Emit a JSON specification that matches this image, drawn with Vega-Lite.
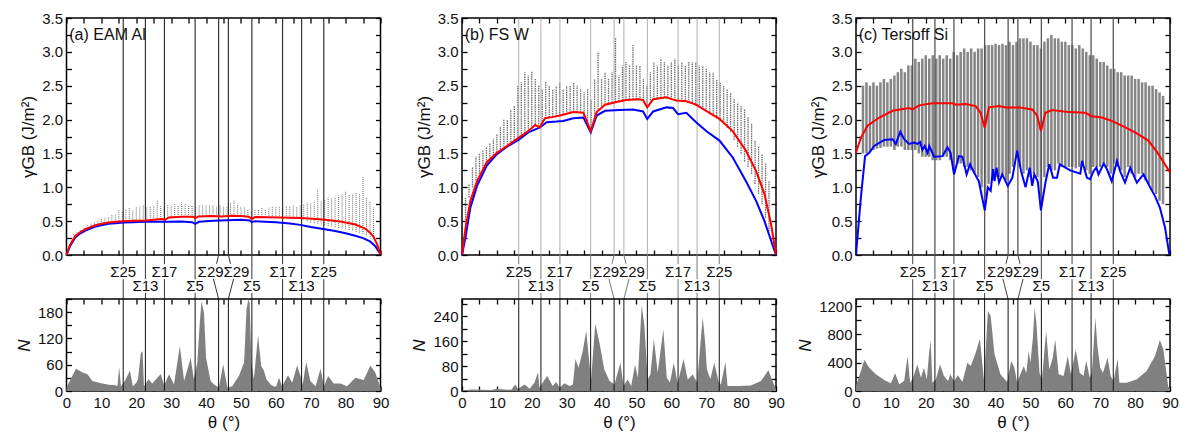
{
"$schema": "https://vega.github.io/schema/vega-lite/v6.json",
"padding": {"left": 14.5, "top": 10, "right": 5, "bottom": 0},
"background": "white",
"config": {
  "font": "Liberation Sans",
  "view": {"stroke": "black", "strokeWidth": 1.5},
  "axis": {"domain": false, "grid": false, "tickColor": "black", "tickSize": -5, "tickWidth": 1.3, "labelFontSize": 15, "labelColor": "#111", "titleFontSize": 17, "titleFontWeight": "normal", "titleColor": "#111", "labelPadding": 9, "titlePadding": 4, "labelOverlap": false, "labelFlush": false, "labelFont": "Liberation Sans", "titleFont": "Liberation Sans"}
},
"datasets": {
  "sigma": [{"theta":16.26},{"theta":22.62},{"theta":28.07},{"theta":36.87},{"theta":43.6},{"theta":46.4},{"theta":53.13},{"theta":61.93},{"theta":67.38},{"theta":73.74}],
  "gapSeg": [
    {"x1":16.26,"x2":16.26,"y1":0.79,"y2":1},{"x1":16.26,"x2":16.26,"y1":0,"y2":0.45},
    {"x1":28.07,"x2":28.07,"y1":0.79,"y2":1},{"x1":28.07,"x2":28.07,"y1":0,"y2":0.45},
    {"x1":61.93,"x2":61.93,"y1":0.79,"y2":1},{"x1":61.93,"x2":61.93,"y1":0,"y2":0.45},
    {"x1":73.74,"x2":73.74,"y1":0.79,"y2":1},{"x1":73.74,"x2":73.74,"y1":0,"y2":0.45},
    {"x1":22.62,"x2":22.62,"y1":0.45,"y2":1},{"x1":22.62,"x2":22.62,"y1":0,"y2":0.14},
    {"x1":36.87,"x2":36.87,"y1":0.45,"y2":1},{"x1":36.87,"x2":36.87,"y1":0,"y2":0.14},
    {"x1":53.13,"x2":53.13,"y1":0.45,"y2":1},{"x1":53.13,"x2":53.13,"y1":0,"y2":0.14},
    {"x1":67.38,"x2":67.38,"y1":0.45,"y2":1},{"x1":67.38,"x2":67.38,"y1":0,"y2":0.14},
    {"x1":43.6,"x2":43.0,"y1":1,"y2":0.8},{"x1":42.1,"x2":43.6,"y1":0.46,"y2":0},
    {"x1":46.4,"x2":47.0,"y1":1,"y2":0.8},{"x1":47.9,"x2":46.4,"y1":0.46,"y2":0}
  ],
  "gapLab": [
    {"label":"Σ25","theta":16.26,"tier":0.62},
    {"label":"Σ13","theta":22.62,"tier":0.295},
    {"label":"Σ17","theta":28.07,"tier":0.62},
    {"label":"Σ5","theta":36.87,"tier":0.295},
    {"label":"Σ29","theta":41.3,"tier":0.62},
    {"label":"Σ29","theta":48.7,"tier":0.62},
    {"label":"Σ5","theta":53.13,"tier":0.295},
    {"label":"Σ17","theta":61.93,"tier":0.62},
    {"label":"Σ13","theta":67.38,"tier":0.295},
    {"label":"Σ25","theta":73.74,"tier":0.62}
  ],
  "lineA": [
    {"curve":"lower","theta":0,"gamma":0},{"curve":"lower","theta":1,"gamma":0.13},{"curve":"lower","theta":2.5,"gamma":0.26},{"curve":"lower","theta":4,"gamma":0.32},{"curve":"lower","theta":5.4,"gamma":0.36},{"curve":"lower","theta":7,"gamma":0.395},{"curve":"lower","theta":8.3,"gamma":0.42},{"curve":"lower","theta":10,"gamma":0.44},{"curve":"lower","theta":12.1,"gamma":0.46},{"curve":"lower","theta":14,"gamma":0.47},{"curve":"lower","theta":16.4,"gamma":0.48},{"curve":"lower","theta":19,"gamma":0.485},{"curve":"lower","theta":22.6,"gamma":0.49},{"curve":"lower","theta":25,"gamma":0.49},{"curve":"lower","theta":28.3,"gamma":0.49},{"curve":"lower","theta":33,"gamma":0.495},{"curve":"lower","theta":36,"gamma":0.485},{"curve":"lower","theta":36.9,"gamma":0.46},{"curve":"lower","theta":38,"gamma":0.49},{"curve":"lower","theta":42,"gamma":0.505},{"curve":"lower","theta":46,"gamma":0.515},{"curve":"lower","theta":50,"gamma":0.52},{"curve":"lower","theta":52.5,"gamma":0.51},{"curve":"lower","theta":53.1,"gamma":0.485},{"curve":"lower","theta":54,"gamma":0.5},{"curve":"lower","theta":60,"gamma":0.485},{"curve":"lower","theta":64,"gamma":0.465},{"curve":"lower","theta":67,"gamma":0.445},{"curve":"lower","theta":70,"gamma":0.415},{"curve":"lower","theta":74,"gamma":0.38},{"curve":"lower","theta":77,"gamma":0.355},{"curve":"lower","theta":80,"gamma":0.32},{"curve":"lower","theta":83,"gamma":0.28},{"curve":"lower","theta":85,"gamma":0.25},{"curve":"lower","theta":87,"gamma":0.2},{"curve":"lower","theta":88.5,"gamma":0.13},{"curve":"lower","theta":90,"gamma":0.01},
    {"curve":"upper","theta":0,"gamma":0},{"curve":"upper","theta":1,"gamma":0.15},{"curve":"upper","theta":2.5,"gamma":0.28},{"curve":"upper","theta":4,"gamma":0.34},{"curve":"upper","theta":5.4,"gamma":0.38},{"curve":"upper","theta":7,"gamma":0.415},{"curve":"upper","theta":8.3,"gamma":0.44},{"curve":"upper","theta":10,"gamma":0.46},{"curve":"upper","theta":12.1,"gamma":0.48},{"curve":"upper","theta":14,"gamma":0.49},{"curve":"upper","theta":16.4,"gamma":0.5},{"curve":"upper","theta":19,"gamma":0.505},{"curve":"upper","theta":22.6,"gamma":0.51},{"curve":"upper","theta":25,"gamma":0.52},{"curve":"upper","theta":27.4,"gamma":0.53},{"curve":"upper","theta":28.3,"gamma":0.52},{"curve":"upper","theta":29.3,"gamma":0.555},{"curve":"upper","theta":33.1,"gamma":0.565},{"curve":"upper","theta":36.4,"gamma":0.565},{"curve":"upper","theta":36.9,"gamma":0.545},{"curve":"upper","theta":37.9,"gamma":0.57},{"curve":"upper","theta":41.7,"gamma":0.575},{"curve":"upper","theta":44.5,"gamma":0.57},{"curve":"upper","theta":47.4,"gamma":0.58},{"curve":"upper","theta":50,"gamma":0.575},{"curve":"upper","theta":52.2,"gamma":0.565},{"curve":"upper","theta":53.1,"gamma":0.535},{"curve":"upper","theta":54.1,"gamma":0.56},{"curve":"upper","theta":60.8,"gamma":0.555},{"curve":"upper","theta":67.5,"gamma":0.545},{"curve":"upper","theta":74.2,"gamma":0.52},{"curve":"upper","theta":78.9,"gamma":0.49},{"curve":"upper","theta":82.8,"gamma":0.45},{"curve":"upper","theta":85.6,"gamma":0.39},{"curve":"upper","theta":87,"gamma":0.33},{"curve":"upper","theta":88,"gamma":0.27},{"curve":"upper","theta":89,"gamma":0.16},{"curve":"upper","theta":90,"gamma":0.01}
  ],
  "grayA": [
    {"theta":2,"lo":0.29,"hi":0.31},{"theta":3,"lo":0.32,"hi":0.35},{"theta":4,"lo":0.35,"hi":0.38},{"theta":5,"lo":0.38,"hi":0.41},{"theta":6,"lo":0.4,"hi":0.44},{"theta":7,"lo":0.42,"hi":0.46},{"theta":8,"lo":0.44,"hi":0.49},{"theta":9,"lo":0.45,"hi":0.51},{"theta":10,"lo":0.46,"hi":0.53},{"theta":11,"lo":0.47,"hi":0.55},{"theta":12,"lo":0.48,"hi":0.57},{"theta":13,"lo":0.49,"hi":0.59},{"theta":14,"lo":0.49,"hi":0.6},{"theta":15,"lo":0.5,"hi":0.66},{"theta":16,"lo":0.5,"hi":0.65},{"theta":17,"lo":0.5,"hi":0.68},{"theta":18,"lo":0.5,"hi":0.7},{"theta":19,"lo":0.51,"hi":0.66},{"theta":20,"lo":0.51,"hi":0.7},{"theta":21,"lo":0.51,"hi":0.72},{"theta":22,"lo":0.51,"hi":0.74},{"theta":23,"lo":0.51,"hi":0.7},{"theta":24,"lo":0.52,"hi":0.72},{"theta":25,"lo":0.52,"hi":0.73},{"theta":26,"lo":0.52,"hi":0.8},{"theta":27,"lo":0.53,"hi":0.72},{"theta":28,"lo":0.52,"hi":0.7},{"theta":29,"lo":0.55,"hi":0.74},{"theta":30,"lo":0.55,"hi":0.73},{"theta":31,"lo":0.56,"hi":0.75},{"theta":32,"lo":0.56,"hi":0.74},{"theta":33,"lo":0.56,"hi":0.77},{"theta":34,"lo":0.56,"hi":0.75},{"theta":35,"lo":0.56,"hi":0.74},{"theta":36,"lo":0.56,"hi":0.73},{"theta":37,"lo":0.55,"hi":0.72},{"theta":38,"lo":0.57,"hi":0.74},{"theta":39,"lo":0.57,"hi":0.74},{"theta":40,"lo":0.57,"hi":0.73},{"theta":41,"lo":0.57,"hi":0.74},{"theta":42,"lo":0.57,"hi":0.73},{"theta":43,"lo":0.57,"hi":0.72},{"theta":44,"lo":0.57,"hi":0.73},{"theta":45,"lo":0.57,"hi":0.72},{"theta":46,"lo":0.58,"hi":0.72},{"theta":47,"lo":0.58,"hi":0.78},{"theta":48,"lo":0.58,"hi":0.8},{"theta":49,"lo":0.58,"hi":0.74},{"theta":50,"lo":0.57,"hi":0.72},{"theta":51,"lo":0.57,"hi":0.7},{"theta":52,"lo":0.56,"hi":0.68},{"theta":53,"lo":0.53,"hi":0.65},{"theta":54,"lo":0.56,"hi":0.66},{"theta":55,"lo":0.56,"hi":0.68},{"theta":56,"lo":0.56,"hi":0.7},{"theta":57,"lo":0.56,"hi":0.68},{"theta":58,"lo":0.55,"hi":0.7},{"theta":59,"lo":0.55,"hi":0.72},{"theta":60,"lo":0.55,"hi":0.71},{"theta":61,"lo":0.55,"hi":0.72},{"theta":62,"lo":0.55,"hi":0.7},{"theta":63,"lo":0.55,"hi":0.73},{"theta":64,"lo":0.55,"hi":0.72},{"theta":65,"lo":0.54,"hi":0.74},{"theta":66,"lo":0.54,"hi":0.72},{"theta":67,"lo":0.54,"hi":0.73},{"theta":68,"lo":0.52,"hi":0.75},{"theta":69,"lo":0.5,"hi":0.77},{"theta":70,"lo":0.48,"hi":0.76},{"theta":71,"lo":0.47,"hi":0.8},{"theta":72,"lo":0.46,"hi":0.97},{"theta":73,"lo":0.45,"hi":0.8},{"theta":74,"lo":0.44,"hi":0.82},{"theta":75,"lo":0.43,"hi":0.85},{"theta":76,"lo":0.42,"hi":0.84},{"theta":77,"lo":0.41,"hi":0.86},{"theta":78,"lo":0.4,"hi":0.88},{"theta":79,"lo":0.39,"hi":0.9},{"theta":80,"lo":0.38,"hi":0.95},{"theta":81,"lo":0.37,"hi":0.9},{"theta":82,"lo":0.36,"hi":0.9},{"theta":83,"lo":0.34,"hi":0.92},{"theta":84,"lo":0.33,"hi":0.9},{"theta":85,"lo":0.31,"hi":1.15},{"theta":86,"lo":0.29,"hi":0.85},{"theta":87,"lo":0.27,"hi":0.8},{"theta":88,"lo":0.25,"hi":0.7}
  ],
  "nA": [
    {"theta":0,"n":8},{"theta":2.7,"n":51},{"theta":4.6,"n":42},{"theta":6,"n":38},{"theta":7.4,"n":23},{"theta":10.3,"n":17},{"theta":12.2,"n":14},{"theta":14.1,"n":13},{"theta":14.6,"n":11},{"theta":15.1,"n":55},{"theta":15.6,"n":10},{"theta":17,"n":27},{"theta":18.2,"n":47},{"theta":19,"n":11},{"theta":20,"n":19},{"theta":20.5,"n":27},{"theta":21.3,"n":87},{"theta":21.8,"n":91},{"theta":22.2,"n":11},{"theta":23.5,"n":27},{"theta":24.6,"n":17},{"theta":27,"n":39},{"theta":28,"n":13},{"theta":29.4,"n":38},{"theta":30.8,"n":15},{"theta":32.5,"n":103},{"theta":33.7,"n":23},{"theta":35.6,"n":76},{"theta":36.5,"n":27},{"theta":37.5,"n":65},{"theta":38.2,"n":156},{"theta":38.7,"n":205},{"theta":39.4,"n":178},{"theta":40,"n":76},{"theta":41.3,"n":23},{"theta":42.3,"n":15},{"theta":43.7,"n":8},{"theta":44.9,"n":61},{"theta":46.1,"n":8},{"theta":47.5,"n":11},{"theta":49.4,"n":34},{"theta":50.9,"n":65},{"theta":51.6,"n":186},{"theta":52.1,"n":209},{"theta":52.5,"n":201},{"theta":53,"n":65},{"theta":53.7,"n":27},{"theta":54.9,"n":127},{"theta":55.8,"n":57},{"theta":56.6,"n":46},{"theta":57.3,"n":27},{"theta":58.5,"n":15},{"theta":60,"n":8},{"theta":60.9,"n":30},{"theta":61.8,"n":11},{"theta":63.5,"n":36},{"theta":64.7,"n":19},{"theta":66.1,"n":58},{"theta":67.1,"n":34},{"theta":67.7,"n":15},{"theta":68.7,"n":66},{"theta":69.9,"n":23},{"theta":71.4,"n":11},{"theta":72.8,"n":51},{"theta":73.8,"n":11},{"theta":75,"n":34},{"theta":76.6,"n":17},{"theta":78.5,"n":17},{"theta":80.4,"n":11},{"theta":82.8,"n":30},{"theta":85.2,"n":25},{"theta":87.1,"n":58},{"theta":88.5,"n":42},{"theta":90,"n":8}
  ],
  "lineB": [
    {"curve":"lower","theta":0,"gamma":0},{"curve":"lower","theta":1,"gamma":0.26},{"curve":"lower","theta":2.4,"gamma":0.7},{"curve":"lower","theta":4.3,"gamma":1.02},{"curve":"lower","theta":7.1,"gamma":1.32},{"curve":"lower","theta":10,"gamma":1.49},{"curve":"lower","theta":12.9,"gamma":1.6},{"curve":"lower","theta":16.2,"gamma":1.7},{"curve":"lower","theta":19,"gamma":1.81},{"curve":"lower","theta":22.2,"gamma":1.88},{"curve":"lower","theta":24.3,"gamma":1.96},{"curve":"lower","theta":27.1,"gamma":1.97},{"curve":"lower","theta":29,"gamma":1.98},{"curve":"lower","theta":31.9,"gamma":2.02},{"curve":"lower","theta":34.8,"gamma":2.03},{"curve":"lower","theta":36.9,"gamma":1.81},{"curve":"lower","theta":38.6,"gamma":2.06},{"curve":"lower","theta":41,"gamma":2.13},{"curve":"lower","theta":45.2,"gamma":2.14},{"curve":"lower","theta":49,"gamma":2.15},{"curve":"lower","theta":51.9,"gamma":2.12},{"curve":"lower","theta":53.1,"gamma":2.01},{"curve":"lower","theta":54.8,"gamma":2.12},{"curve":"lower","theta":58.6,"gamma":2.18},{"curve":"lower","theta":60.5,"gamma":2.17},{"curve":"lower","theta":61.9,"gamma":2.08},{"curve":"lower","theta":64.3,"gamma":2.1},{"curve":"lower","theta":67.1,"gamma":1.96},{"curve":"lower","theta":70,"gamma":1.83},{"curve":"lower","theta":73.8,"gamma":1.69},{"curve":"lower","theta":77.6,"gamma":1.44},{"curve":"lower","theta":81.4,"gamma":1.09},{"curve":"lower","theta":84.3,"gamma":0.8},{"curve":"lower","theta":86.7,"gamma":0.5},{"curve":"lower","theta":88.6,"gamma":0.21},{"curve":"lower","theta":90,"gamma":0},
    {"curve":"upper","theta":0,"gamma":0.01},{"curve":"upper","theta":1,"gamma":0.4},{"curve":"upper","theta":2.4,"gamma":0.8},{"curve":"upper","theta":4.3,"gamma":1.09},{"curve":"upper","theta":7.1,"gamma":1.37},{"curve":"upper","theta":10,"gamma":1.51},{"curve":"upper","theta":12.9,"gamma":1.61},{"curve":"upper","theta":16.2,"gamma":1.73},{"curve":"upper","theta":19,"gamma":1.83},{"curve":"upper","theta":21,"gamma":1.92},{"curve":"upper","theta":22.2,"gamma":1.88},{"curve":"upper","theta":23.8,"gamma":2.02},{"curve":"upper","theta":26.2,"gamma":2.04},{"curve":"upper","theta":28.1,"gamma":2.06},{"curve":"upper","theta":31.9,"gamma":2.11},{"curve":"upper","theta":34.8,"gamma":2.1},{"curve":"upper","theta":36.9,"gamma":1.83},{"curve":"upper","theta":38.6,"gamma":2.11},{"curve":"upper","theta":41,"gamma":2.22},{"curve":"upper","theta":44.3,"gamma":2.26},{"curve":"upper","theta":47.1,"gamma":2.29},{"curve":"upper","theta":50.5,"gamma":2.3},{"curve":"upper","theta":51.9,"gamma":2.29},{"curve":"upper","theta":53.1,"gamma":2.18},{"curve":"upper","theta":54.8,"gamma":2.3},{"curve":"upper","theta":58.6,"gamma":2.33},{"curve":"upper","theta":61.4,"gamma":2.28},{"curve":"upper","theta":64.3,"gamma":2.27},{"curve":"upper","theta":67.1,"gamma":2.22},{"curve":"upper","theta":70,"gamma":2.13},{"curve":"upper","theta":73.8,"gamma":2.01},{"curve":"upper","theta":77.6,"gamma":1.83},{"curve":"upper","theta":81.4,"gamma":1.54},{"curve":"upper","theta":84.3,"gamma":1.24},{"curve":"upper","theta":86.7,"gamma":0.9},{"curve":"upper","theta":88.6,"gamma":0.45},{"curve":"upper","theta":90,"gamma":0.01}
  ],
  "grayB": [
    {"theta":1,"lo":0.45,"hi":0.85},{"theta":2,"lo":0.85,"hi":1.05},{"theta":3,"lo":1.0,"hi":1.3},{"theta":4,"lo":1.1,"hi":1.45},{"theta":5,"lo":1.2,"hi":1.5},{"theta":6,"lo":1.28,"hi":1.55},{"theta":7,"lo":1.36,"hi":1.6},{"theta":8,"lo":1.42,"hi":1.65},{"theta":9,"lo":1.47,"hi":1.72},{"theta":10,"lo":1.52,"hi":1.78},{"theta":11,"lo":1.56,"hi":1.9},{"theta":12,"lo":1.6,"hi":2.0},{"theta":13,"lo":1.63,"hi":2.0},{"theta":14,"lo":1.67,"hi":2.15},{"theta":15,"lo":1.7,"hi":2.2},{"theta":16,"lo":1.73,"hi":2.5},{"theta":17,"lo":1.76,"hi":2.55},{"theta":18,"lo":1.8,"hi":2.7},{"theta":19,"lo":1.83,"hi":2.65},{"theta":20,"lo":1.87,"hi":2.72},{"theta":21,"lo":1.9,"hi":2.6},{"theta":22,"lo":1.9,"hi":2.5},{"theta":23,"lo":1.97,"hi":2.45},{"theta":24,"lo":2.02,"hi":2.55},{"theta":25,"lo":2.03,"hi":2.5},{"theta":26,"lo":2.04,"hi":2.45},{"theta":27,"lo":2.05,"hi":2.5},{"theta":28,"lo":2.06,"hi":2.55},{"theta":29,"lo":2.07,"hi":2.45},{"theta":30,"lo":2.08,"hi":2.5},{"theta":31,"lo":2.1,"hi":2.5},{"theta":32,"lo":2.11,"hi":2.55},{"theta":33,"lo":2.11,"hi":2.5},{"theta":34,"lo":2.1,"hi":2.45},{"theta":35,"lo":2.05,"hi":2.4},{"theta":36,"lo":1.95,"hi":2.45},{"theta":37,"lo":1.85,"hi":2.3},{"theta":38,"lo":2.05,"hi":2.6},{"theta":39,"lo":2.15,"hi":3.0},{"theta":40,"lo":2.2,"hi":2.6},{"theta":41,"lo":2.22,"hi":2.7},{"theta":42,"lo":2.24,"hi":2.6},{"theta":43,"lo":2.25,"hi":2.7},{"theta":44,"lo":2.26,"hi":3.2},{"theta":45,"lo":2.27,"hi":2.65},{"theta":46,"lo":2.28,"hi":2.8},{"theta":47,"lo":2.29,"hi":2.85},{"theta":48,"lo":2.3,"hi":2.8},{"theta":49,"lo":2.3,"hi":3.1},{"theta":50,"lo":2.3,"hi":2.8},{"theta":51,"lo":2.29,"hi":2.8},{"theta":52,"lo":2.25,"hi":2.6},{"theta":53,"lo":2.18,"hi":2.5},{"theta":54,"lo":2.28,"hi":2.7},{"theta":55,"lo":2.3,"hi":2.85},{"theta":56,"lo":2.31,"hi":2.8},{"theta":57,"lo":2.32,"hi":2.9},{"theta":58,"lo":2.33,"hi":2.85},{"theta":59,"lo":2.32,"hi":2.8},{"theta":60,"lo":2.3,"hi":2.85},{"theta":61,"lo":2.28,"hi":2.9},{"theta":62,"lo":2.27,"hi":2.8},{"theta":63,"lo":2.27,"hi":2.85},{"theta":64,"lo":2.26,"hi":2.8},{"theta":65,"lo":2.25,"hi":2.85},{"theta":66,"lo":2.23,"hi":2.85},{"theta":67,"lo":2.2,"hi":2.85},{"theta":68,"lo":2.18,"hi":2.8},{"theta":69,"lo":2.15,"hi":2.8},{"theta":70,"lo":2.12,"hi":2.75},{"theta":71,"lo":2.08,"hi":2.7},{"theta":72,"lo":2.05,"hi":2.7},{"theta":73,"lo":2.02,"hi":2.6},{"theta":74,"lo":1.98,"hi":2.55},{"theta":75,"lo":1.93,"hi":2.5},{"theta":76,"lo":1.88,"hi":2.45},{"theta":77,"lo":1.82,"hi":2.4},{"theta":78,"lo":1.7,"hi":2.3},{"theta":79,"lo":1.6,"hi":2.25},{"theta":80,"lo":1.5,"hi":2.2},{"theta":81,"lo":1.38,"hi":2.15},{"theta":82,"lo":1.3,"hi":2.05},{"theta":83,"lo":1.2,"hi":1.95},{"theta":84,"lo":1.05,"hi":1.7},{"theta":85,"lo":0.9,"hi":1.6},{"theta":86,"lo":0.75,"hi":1.5},{"theta":87,"lo":0.55,"hi":1.35},{"theta":88,"lo":0.35,"hi":1.1}
  ],
  "nB": [
    {"theta":0,"n":2},{"theta":2.7,"n":5},{"theta":5.5,"n":4},{"theta":8.4,"n":3},{"theta":10.1,"n":7},{"theta":12.2,"n":5},{"theta":14.1,"n":4},{"theta":15.3,"n":21},{"theta":16,"n":7},{"theta":18,"n":21},{"theta":19.4,"n":7},{"theta":20.8,"n":27},{"theta":21.8,"n":61},{"theta":22.2,"n":11},{"theta":24.4,"n":48},{"theta":26,"n":16},{"theta":27,"n":29},{"theta":28,"n":11},{"theta":29.4,"n":25},{"theta":30.8,"n":16},{"theta":31.8,"n":21},{"theta":32.5,"n":103},{"theta":33.4,"n":75},{"theta":34.6,"n":128},{"theta":35.6,"n":194},{"theta":36.5,"n":91},{"theta":37,"n":37},{"theta":38.2,"n":217},{"theta":39.4,"n":155},{"theta":40.8,"n":69},{"theta":42.3,"n":32},{"theta":43.7,"n":21},{"theta":45.4,"n":91},{"theta":46.3,"n":16},{"theta":47.5,"n":37},{"theta":48.5,"n":16},{"theta":49.6,"n":85},{"theta":50.4,"n":43},{"theta":51.5,"n":277},{"theta":52.3,"n":208},{"theta":53.2,"n":37},{"theta":54,"n":53},{"theta":55,"n":167},{"theta":56.1,"n":59},{"theta":57.7,"n":199},{"theta":58.7,"n":43},{"theta":59.6,"n":27},{"theta":60.7,"n":91},{"theta":61.8,"n":25},{"theta":63.5,"n":103},{"theta":64.7,"n":37},{"theta":66.1,"n":53},{"theta":67.4,"n":27},{"theta":69,"n":238},{"theta":69.7,"n":155},{"theta":70.2,"n":69},{"theta":71.2,"n":39},{"theta":72.3,"n":91},{"theta":73.5,"n":32},{"theta":74.2,"n":21},{"theta":75.5,"n":93},{"theta":76.1,"n":16},{"theta":79,"n":16},{"theta":82.8,"n":18},{"theta":85.7,"n":32},{"theta":87.8,"n":67},{"theta":90,"n":5}
  ],
  "lineC": [
    {"curve":"lower","theta":0,"gamma":0.01},{"curve":"lower","theta":1.4,"gamma":0.85},{"curve":"lower","theta":2.6,"gamma":1.46},{"curve":"lower","theta":3.8,"gamma":1.51},{"curve":"lower","theta":5.2,"gamma":1.61},{"curve":"lower","theta":8.1,"gamma":1.7},{"curve":"lower","theta":10.5,"gamma":1.71},{"curve":"lower","theta":11.4,"gamma":1.64},{"curve":"lower","theta":12.7,"gamma":1.82},{"curve":"lower","theta":13.8,"gamma":1.71},{"curve":"lower","theta":15.2,"gamma":1.64},{"curve":"lower","theta":16.7,"gamma":1.66},{"curve":"lower","theta":17.6,"gamma":1.64},{"curve":"lower","theta":18.4,"gamma":1.67},{"curve":"lower","theta":19,"gamma":1.55},{"curve":"lower","theta":19.7,"gamma":1.61},{"curve":"lower","theta":20.5,"gamma":1.51},{"curve":"lower","theta":21,"gamma":1.61},{"curve":"lower","theta":22.4,"gamma":1.45},{"curve":"lower","theta":24.8,"gamma":1.46},{"curve":"lower","theta":26.2,"gamma":1.59},{"curve":"lower","theta":27.1,"gamma":1.51},{"curve":"lower","theta":28.1,"gamma":1.19},{"curve":"lower","theta":29.5,"gamma":1.46},{"curve":"lower","theta":30.5,"gamma":1.45},{"curve":"lower","theta":31.7,"gamma":1.19},{"curve":"lower","theta":32.7,"gamma":1.34},{"curve":"lower","theta":33.8,"gamma":1.22},{"curve":"lower","theta":35.2,"gamma":1.09},{"curve":"lower","theta":36.9,"gamma":0.66},{"curve":"lower","theta":37.8,"gamma":1.0},{"curve":"lower","theta":38.6,"gamma":0.95},{"curve":"lower","theta":39.3,"gamma":1.27},{"curve":"lower","theta":39.7,"gamma":1.09},{"curve":"lower","theta":40.3,"gamma":1.29},{"curve":"lower","theta":41,"gamma":1.07},{"curve":"lower","theta":41.9,"gamma":1.19},{"curve":"lower","theta":43.5,"gamma":1.02},{"curve":"lower","theta":44.8,"gamma":1.14},{"curve":"lower","theta":46.2,"gamma":1.54},{"curve":"lower","theta":47.3,"gamma":1.24},{"curve":"lower","theta":48.6,"gamma":1.0},{"curve":"lower","theta":49.8,"gamma":1.29},{"curve":"lower","theta":50.5,"gamma":1.02},{"curve":"lower","theta":51.1,"gamma":1.19},{"curve":"lower","theta":52.1,"gamma":1.09},{"curve":"lower","theta":53,"gamma":0.66},{"curve":"lower","theta":54.3,"gamma":1.07},{"curve":"lower","theta":55.4,"gamma":1.34},{"curve":"lower","theta":56.5,"gamma":1.14},{"curve":"lower","theta":57.6,"gamma":1.14},{"curve":"lower","theta":58.4,"gamma":1.34},{"curve":"lower","theta":61.4,"gamma":1.25},{"curve":"lower","theta":64.3,"gamma":1.2},{"curve":"lower","theta":64.8,"gamma":1.39},{"curve":"lower","theta":66.2,"gamma":1.14},{"curve":"lower","theta":67.1,"gamma":1.12},{"curve":"lower","theta":68.1,"gamma":1.24},{"curve":"lower","theta":68.9,"gamma":1.29},{"curve":"lower","theta":69.5,"gamma":1.19},{"curve":"lower","theta":71,"gamma":1.35},{"curve":"lower","theta":71.9,"gamma":1.27},{"curve":"lower","theta":73.3,"gamma":1.09},{"curve":"lower","theta":74.8,"gamma":1.39},{"curve":"lower","theta":75.7,"gamma":1.24},{"curve":"lower","theta":77.1,"gamma":1.07},{"curve":"lower","theta":78.6,"gamma":1.29},{"curve":"lower","theta":80.5,"gamma":1.07},{"curve":"lower","theta":82.4,"gamma":1.19},{"curve":"lower","theta":84.3,"gamma":1.0},{"curve":"lower","theta":85.7,"gamma":0.87},{"curve":"lower","theta":87.1,"gamma":0.7},{"curve":"lower","theta":88.6,"gamma":0.4},{"curve":"lower","theta":89.8,"gamma":0.01},
    {"curve":"upper","theta":0,"gamma":1.51},{"curve":"upper","theta":1.4,"gamma":1.73},{"curve":"upper","theta":3.3,"gamma":1.91},{"curve":"upper","theta":6.7,"gamma":2.03},{"curve":"upper","theta":10.5,"gamma":2.13},{"curve":"upper","theta":15.2,"gamma":2.17},{"curve":"upper","theta":16.2,"gamma":2.15},{"curve":"upper","theta":18.1,"gamma":2.21},{"curve":"upper","theta":21.9,"gamma":2.24},{"curve":"upper","theta":27.6,"gamma":2.24},{"curve":"upper","theta":28.6,"gamma":2.22},{"curve":"upper","theta":31.4,"gamma":2.23},{"curve":"upper","theta":34.3,"gamma":2.2},{"curve":"upper","theta":35.7,"gamma":2.1},{"curve":"upper","theta":36.9,"gamma":1.88},{"curve":"upper","theta":38.1,"gamma":2.18},{"curve":"upper","theta":41,"gamma":2.2},{"curve":"upper","theta":42.9,"gamma":2.18},{"curve":"upper","theta":46.7,"gamma":2.18},{"curve":"upper","theta":50.5,"gamma":2.15},{"curve":"upper","theta":51.9,"gamma":2.06},{"curve":"upper","theta":53,"gamma":1.83},{"curve":"upper","theta":54.3,"gamma":2.1},{"curve":"upper","theta":56.2,"gamma":2.14},{"curve":"upper","theta":61,"gamma":2.11},{"curve":"upper","theta":65.7,"gamma":2.1},{"curve":"upper","theta":67.6,"gamma":2.05},{"curve":"upper","theta":70.5,"gamma":2.03},{"curve":"upper","theta":73.3,"gamma":1.98},{"curve":"upper","theta":76.2,"gamma":1.91},{"curve":"upper","theta":80,"gamma":1.81},{"curve":"upper","theta":83.8,"gamma":1.69},{"curve":"upper","theta":86.7,"gamma":1.49},{"curve":"upper","theta":90,"gamma":1.22}
  ],
  "grayC": [
    {"theta":2,"lo":1.5,"hi":2.5},{"theta":3,"lo":1.5,"hi":2.55},{"theta":4,"lo":1.52,"hi":2.5},{"theta":5,"lo":1.55,"hi":2.55},{"theta":6,"lo":1.57,"hi":2.5},{"theta":7,"lo":1.58,"hi":2.55},{"theta":8,"lo":1.6,"hi":2.6},{"theta":9,"lo":1.6,"hi":2.55},{"theta":10,"lo":1.6,"hi":2.6},{"theta":11,"lo":1.55,"hi":2.65},{"theta":12,"lo":1.6,"hi":2.7},{"theta":13,"lo":1.6,"hi":2.75},{"theta":14,"lo":1.55,"hi":2.7},{"theta":15,"lo":1.55,"hi":2.8},{"theta":16,"lo":1.55,"hi":2.8},{"theta":17,"lo":1.55,"hi":2.9},{"theta":18,"lo":1.5,"hi":2.85},{"theta":19,"lo":1.45,"hi":2.9},{"theta":20,"lo":1.45,"hi":2.95},{"theta":21,"lo":1.45,"hi":2.9},{"theta":22,"lo":1.4,"hi":2.95},{"theta":23,"lo":1.4,"hi":2.9},{"theta":24,"lo":1.4,"hi":2.95},{"theta":25,"lo":1.45,"hi":2.9},{"theta":26,"lo":1.45,"hi":2.95},{"theta":27,"lo":1.4,"hi":2.9},{"theta":28,"lo":1.25,"hi":3.0},{"theta":29,"lo":1.35,"hi":2.95},{"theta":30,"lo":1.35,"hi":3.0},{"theta":31,"lo":1.3,"hi":3.05},{"theta":32,"lo":1.3,"hi":3.0},{"theta":33,"lo":1.25,"hi":3.05},{"theta":34,"lo":1.2,"hi":3.0},{"theta":35,"lo":1.15,"hi":3.05},{"theta":36,"lo":1.0,"hi":3.05},{"theta":37,"lo":0.85,"hi":3.1},{"theta":38,"lo":1.05,"hi":3.1},{"theta":39,"lo":1.1,"hi":3.1},{"theta":40,"lo":1.15,"hi":3.12},{"theta":41,"lo":1.15,"hi":3.1},{"theta":42,"lo":1.15,"hi":3.12},{"theta":43,"lo":1.1,"hi":3.1},{"theta":44,"lo":1.2,"hi":3.15},{"theta":45,"lo":1.3,"hi":3.1},{"theta":46,"lo":1.45,"hi":3.15},{"theta":47,"lo":1.3,"hi":3.2},{"theta":48,"lo":1.2,"hi":3.2},{"theta":49,"lo":1.25,"hi":3.2},{"theta":50,"lo":1.15,"hi":3.15},{"theta":51,"lo":1.2,"hi":3.1},{"theta":52,"lo":1.15,"hi":3.1},{"theta":53,"lo":0.85,"hi":3.05},{"theta":54,"lo":1.15,"hi":3.15},{"theta":55,"lo":1.3,"hi":3.2},{"theta":56,"lo":1.25,"hi":3.25},{"theta":57,"lo":1.25,"hi":3.2},{"theta":58,"lo":1.35,"hi":3.2},{"theta":59,"lo":1.3,"hi":3.15},{"theta":60,"lo":1.3,"hi":3.15},{"theta":61,"lo":1.3,"hi":3.1},{"theta":62,"lo":1.3,"hi":3.1},{"theta":63,"lo":1.28,"hi":3.05},{"theta":64,"lo":1.3,"hi":3.1},{"theta":65,"lo":1.35,"hi":3.05},{"theta":66,"lo":1.25,"hi":3.0},{"theta":67,"lo":1.2,"hi":2.95},{"theta":68,"lo":1.3,"hi":2.95},{"theta":69,"lo":1.3,"hi":2.9},{"theta":70,"lo":1.3,"hi":2.85},{"theta":71,"lo":1.35,"hi":2.85},{"theta":72,"lo":1.3,"hi":2.8},{"theta":73,"lo":1.2,"hi":2.75},{"theta":74,"lo":1.35,"hi":2.75},{"theta":75,"lo":1.3,"hi":2.7},{"theta":76,"lo":1.25,"hi":2.7},{"theta":77,"lo":1.15,"hi":2.65},{"theta":78,"lo":1.3,"hi":2.65},{"theta":79,"lo":1.2,"hi":2.65},{"theta":80,"lo":1.15,"hi":2.6},{"theta":81,"lo":1.2,"hi":2.6},{"theta":82,"lo":1.2,"hi":2.55},{"theta":83,"lo":1.1,"hi":2.55},{"theta":84,"lo":1.05,"hi":2.5},{"theta":85,"lo":0.95,"hi":2.5},{"theta":86,"lo":0.9,"hi":2.45},{"theta":87,"lo":0.8,"hi":2.4},{"theta":88,"lo":0.75,"hi":2.35}
  ],
  "nC": [
    {"theta":0,"n":70},{"theta":2.4,"n":438},{"theta":3.8,"n":330},{"theta":5.7,"n":235},{"theta":8.1,"n":155},{"theta":10,"n":108},{"theta":11.2,"n":250},{"theta":12.4,"n":94},{"theta":13.8,"n":141},{"theta":14.8,"n":494},{"theta":15.5,"n":118},{"theta":16.2,"n":165},{"theta":17.6,"n":376},{"theta":18.6,"n":188},{"theta":19.5,"n":330},{"theta":20.3,"n":165},{"theta":21,"n":565},{"theta":21.4,"n":706},{"theta":21.9,"n":118},{"theta":22.9,"n":165},{"theta":24.1,"n":376},{"theta":25.2,"n":212},{"theta":26.4,"n":141},{"theta":27,"n":235},{"theta":28.1,"n":141},{"theta":29.2,"n":221},{"theta":30.5,"n":127},{"theta":31.9,"n":400},{"theta":32.9,"n":353},{"theta":34.3,"n":541},{"theta":35.5,"n":739},{"theta":36.7,"n":141},{"theta":37.8,"n":1129},{"theta":38.6,"n":1059},{"theta":39.7,"n":518},{"theta":41.4,"n":235},{"theta":43.3,"n":127},{"theta":44.5,"n":424},{"theta":45.4,"n":330},{"theta":46.2,"n":118},{"theta":47.1,"n":235},{"theta":48.1,"n":353},{"theta":48.8,"n":250},{"theta":49.5,"n":565},{"theta":50,"n":400},{"theta":50.7,"n":753},{"theta":51.2,"n":1176},{"theta":51.7,"n":965},{"theta":52.6,"n":259},{"theta":53.3,"n":165},{"theta":54.5,"n":847},{"theta":55.4,"n":306},{"theta":56.4,"n":471},{"theta":57.1,"n":729},{"theta":58.1,"n":235},{"theta":59.5,"n":212},{"theta":60.7,"n":494},{"theta":61.6,"n":235},{"theta":63,"n":588},{"theta":64.1,"n":259},{"theta":65.2,"n":212},{"theta":66,"n":424},{"theta":67,"n":188},{"theta":67.6,"n":259},{"theta":68.6,"n":1035},{"theta":69.2,"n":635},{"theta":70,"n":330},{"theta":70.8,"n":259},{"theta":72.1,"n":471},{"theta":73,"n":212},{"theta":73.8,"n":141},{"theta":75,"n":456},{"theta":75.5,"n":118},{"theta":77.6,"n":118},{"theta":80.5,"n":165},{"theta":83.3,"n":282},{"theta":85.7,"n":494},{"theta":87.1,"n":720},{"theta":88.1,"n":588},{"theta":89.5,"n":61},{"theta":90,"n":40}
  ]
},
"spacing": 19.5,
"hconcat": [
  {"spacing": 0, "bounds": "flush", "vconcat": [
    {"width": 314, "height": 237,
     "layer": [
      {"data": {"name": "grayA"}, "mark": {"type": "rule", "color": "#767676", "strokeWidth": 1.1, "strokeDash": [1, 1]},
       "encoding": {"x": {"field": "theta", "type": "quantitative", "scale": {"domain": [0, 90], "nice": false}, "axis": {"orient": "bottom", "values": [0,5,10,15,20,25,30,35,40,45,50,55,60,65,70,75,80,85,90], "labels": false, "title": null}},
        "y": {"field": "lo", "type": "quantitative", "scale": {"domain": [0, 3.5], "nice": false}, "axis": {"orient": "left", "values": [0,0.25,0.5,0.75,1,1.25,1.5,1.75,2,2.25,2.5,2.75,3,3.25,3.5], "labelExpr": "(datum.value*4) % 2 == 0 ? format(datum.value, '.1f') : ''", "title": "γGB (J/m²)"}},
        "y2": {"field": "hi"}}},
      {"data": {"name": "sigma"}, "mark": {"type": "rule", "color": "#333333", "strokeWidth": 1.2},
       "encoding": {"x": {"field": "theta", "type": "quantitative", "axis": {"orient": "top", "values": [0,5,10,15,20,25,30,35,40,45,50,55,60,65,70,75,80,85,90], "labels": false, "title": null}}}},
      {"data": {"name": "lineA"}, "mark": {"type": "line", "strokeWidth": 2},
       "encoding": {"x": {"field": "theta", "type": "quantitative", "axis": null},
        "y": {"field": "gamma", "type": "quantitative", "axis": {"orient": "right", "values": [0,0.25,0.5,0.75,1,1.25,1.5,1.75,2,2.25,2.5,2.75,3,3.25,3.5], "labels": false, "title": null}},
        "color": {"field": "curve", "type": "nominal", "scale": {"domain": ["upper", "lower"], "range": ["#ff0000", "#0000ff"]}, "legend": null}}},
      {"data": {"values": [{"label": "(a) EAM Al"}]}, "mark": {"type": "text", "align": "left", "baseline": "middle", "fontSize": 16, "color": "#111"},
       "encoding": {"x": {"datum": 0.8, "type": "quantitative", "axis": null}, "y": {"datum": 3.25, "type": "quantitative", "axis": null}, "text": {"field": "label"}}}
     ],
     "resolve": {"axis": {"x": "independent", "y": "independent"}}},
    {"width": 314, "height": 44, "view": {"stroke": null},
     "layer": [
      {"data": {"name": "gapSeg"}, "mark": {"type": "rule", "color": "#333333", "strokeWidth": 1},
       "encoding": {"x": {"field": "x1", "type": "quantitative", "scale": {"domain": [0, 90], "nice": false}, "axis": null}, "x2": {"field": "x2"},
        "y": {"field": "y1", "type": "quantitative", "scale": {"domain": [0, 1], "nice": false}, "axis": null}, "y2": {"field": "y2"}}},
      {"data": {"name": "gapLab"}, "mark": {"type": "text", "fontSize": 15, "baseline": "middle", "color": "#111"},
       "encoding": {"x": {"field": "theta", "type": "quantitative", "axis": null}, "y": {"field": "tier", "type": "quantitative", "axis": null}, "text": {"field": "label"}}}
     ]},
    {"width": 314, "height": 92,
     "layer": [
      {"data": {"name": "nA"}, "mark": {"type": "area", "color": "#808080"},
       "encoding": {"x": {"field": "theta", "type": "quantitative", "scale": {"domain": [0, 90], "nice": false}, "axis": {"orient": "bottom", "values": [0,5,10,15,20,25,30,35,40,45,50,55,60,65,70,75,80,85,90], "labelExpr": "datum.value % 10 == 0 ? datum.label : ''", "title": "θ (°)"}},
        "y": {"field": "n", "type": "quantitative", "scale": {"domain": [0, 210], "nice": false}, "axis": {"orient": "left", "values": [0,30,60,90,120,150,180,210], "labelExpr": "datum.value % 60 == 0 ? datum.label : ''", "title": "N", "titleFontStyle": "italic"}}}},
      {"data": {"name": "nA"}, "mark": {"type": "area", "opacity": 0},
       "encoding": {"x": {"field": "theta", "type": "quantitative", "axis": {"orient": "top", "values": [0,5,10,15,20,25,30,35,40,45,50,55,60,65,70,75,80,85,90], "labels": false, "title": null}},
        "y": {"field": "n", "type": "quantitative", "axis": {"orient": "right", "values": [0,30,60,90,120,150,180,210], "labels": false, "title": null}}}},
      {"data": {"name": "sigma"}, "mark": {"type": "rule", "color": "#111111", "strokeWidth": 1},
       "encoding": {"x": {"field": "theta", "type": "quantitative", "axis": null}}}
     ],
     "resolve": {"axis": {"x": "independent", "y": "independent"}}}
  ]},
  {"spacing": 9, "hconcat": [
  {"spacing": 0, "bounds": "flush", "vconcat": [
    {"width": 314, "height": 237,
     "layer": [
      {"data": {"name": "grayB"}, "mark": {"type": "rule", "color": "#6e6e6e", "strokeWidth": 1.3, "strokeDash": [1.5, 0.8]},
       "encoding": {"x": {"field": "theta", "type": "quantitative", "scale": {"domain": [0, 90], "nice": false}, "axis": {"orient": "bottom", "values": [0,5,10,15,20,25,30,35,40,45,50,55,60,65,70,75,80,85,90], "labels": false, "title": null}},
        "y": {"field": "lo", "type": "quantitative", "scale": {"domain": [0, 3.5], "nice": false}, "axis": {"orient": "left", "values": [0,0.25,0.5,0.75,1,1.25,1.5,1.75,2,2.25,2.5,2.75,3,3.25,3.5], "labelExpr": "(datum.value*4) % 2 == 0 ? format(datum.value, '.1f') : ''", "title": "γGB (J/m²)"}},
        "y2": {"field": "hi"}}},
      {"data": {"name": "sigma"}, "mark": {"type": "rule", "color": "#9a9a9a", "strokeWidth": 0.8},
       "encoding": {"x": {"field": "theta", "type": "quantitative", "axis": {"orient": "top", "values": [0,5,10,15,20,25,30,35,40,45,50,55,60,65,70,75,80,85,90], "labels": false, "title": null}}}},
      {"data": {"name": "lineB"}, "mark": {"type": "line", "strokeWidth": 2},
       "encoding": {"x": {"field": "theta", "type": "quantitative", "axis": null},
        "y": {"field": "gamma", "type": "quantitative", "axis": {"orient": "right", "values": [0,0.25,0.5,0.75,1,1.25,1.5,1.75,2,2.25,2.5,2.75,3,3.25,3.5], "labels": false, "title": null}},
        "color": {"field": "curve", "type": "nominal", "scale": {"domain": ["upper", "lower"], "range": ["#ff0000", "#0000ff"]}, "legend": null}}},
      {"data": {"values": [{"label": "(b) FS W"}]}, "mark": {"type": "text", "align": "left", "baseline": "middle", "fontSize": 16, "color": "#111"},
       "encoding": {"x": {"datum": 0.8, "type": "quantitative", "axis": null}, "y": {"datum": 3.25, "type": "quantitative", "axis": null}, "text": {"field": "label"}}}
     ],
     "resolve": {"axis": {"x": "independent", "y": "independent"}}},
    {"width": 314, "height": 44, "view": {"stroke": null},
     "layer": [
      {"data": {"name": "gapSeg"}, "mark": {"type": "rule", "color": "#777777", "strokeWidth": 1},
       "encoding": {"x": {"field": "x1", "type": "quantitative", "scale": {"domain": [0, 90], "nice": false}, "axis": null}, "x2": {"field": "x2"},
        "y": {"field": "y1", "type": "quantitative", "scale": {"domain": [0, 1], "nice": false}, "axis": null}, "y2": {"field": "y2"}}},
      {"data": {"name": "gapLab"}, "mark": {"type": "text", "fontSize": 15, "baseline": "middle", "color": "#111"},
       "encoding": {"x": {"field": "theta", "type": "quantitative", "axis": null}, "y": {"field": "tier", "type": "quantitative", "axis": null}, "text": {"field": "label"}}}
     ]},
    {"width": 314, "height": 92,
     "layer": [
      {"data": {"name": "nB"}, "mark": {"type": "area", "color": "#808080"},
       "encoding": {"x": {"field": "theta", "type": "quantitative", "scale": {"domain": [0, 90], "nice": false}, "axis": {"orient": "bottom", "values": [0,5,10,15,20,25,30,35,40,45,50,55,60,65,70,75,80,85,90], "labelExpr": "datum.value % 10 == 0 ? datum.label : ''", "title": "θ (°)"}},
        "y": {"field": "n", "type": "quantitative", "scale": {"domain": [0, 296], "nice": false}, "axis": {"orient": "left", "values": [0,40,80,120,160,200,240,280], "labelExpr": "datum.value % 80 == 0 ? datum.label : ''", "title": "N", "titleFontStyle": "italic"}}}},
      {"data": {"name": "nB"}, "mark": {"type": "area", "opacity": 0},
       "encoding": {"x": {"field": "theta", "type": "quantitative", "axis": {"orient": "top", "values": [0,5,10,15,20,25,30,35,40,45,50,55,60,65,70,75,80,85,90], "labels": false, "title": null}},
        "y": {"field": "n", "type": "quantitative", "axis": {"orient": "right", "values": [0,40,80,120,160,200,240,280], "labels": false, "title": null}}}},
      {"data": {"name": "sigma"}, "mark": {"type": "rule", "color": "#111111", "strokeWidth": 1},
       "encoding": {"x": {"field": "theta", "type": "quantitative", "axis": null}}}
     ],
     "resolve": {"axis": {"x": "independent", "y": "independent"}}}
  ]},
  {"spacing": 0, "bounds": "flush", "vconcat": [
    {"width": 314, "height": 237,
     "layer": [
      {"data": {"name": "grayC"}, "mark": {"type": "rule", "color": "#858585", "strokeWidth": 2.5},
       "encoding": {"x": {"field": "theta", "type": "quantitative", "scale": {"domain": [0, 90], "nice": false}, "axis": {"orient": "bottom", "values": [0,5,10,15,20,25,30,35,40,45,50,55,60,65,70,75,80,85,90], "labels": false, "title": null}},
        "y": {"field": "lo", "type": "quantitative", "scale": {"domain": [0, 3.5], "nice": false}, "axis": {"orient": "left", "values": [0,0.25,0.5,0.75,1,1.25,1.5,1.75,2,2.25,2.5,2.75,3,3.25,3.5], "labelExpr": "(datum.value*4) % 2 == 0 ? format(datum.value, '.1f') : ''", "title": "γGB (J/m²)"}},
        "y2": {"field": "hi"}}},
      {"data": {"name": "sigma"}, "mark": {"type": "rule", "color": "#555555", "strokeWidth": 1.3},
       "encoding": {"x": {"field": "theta", "type": "quantitative", "axis": {"orient": "top", "values": [0,5,10,15,20,25,30,35,40,45,50,55,60,65,70,75,80,85,90], "labels": false, "title": null}}}},
      {"data": {"name": "lineC"}, "mark": {"type": "line", "strokeWidth": 2},
       "encoding": {"x": {"field": "theta", "type": "quantitative", "axis": null},
        "y": {"field": "gamma", "type": "quantitative", "axis": {"orient": "right", "values": [0,0.25,0.5,0.75,1,1.25,1.5,1.75,2,2.25,2.5,2.75,3,3.25,3.5], "labels": false, "title": null}},
        "color": {"field": "curve", "type": "nominal", "scale": {"domain": ["upper", "lower"], "range": ["#ff0000", "#0000ff"]}, "legend": null}}},
      {"data": {"values": [{"label": "(c) Tersoff Si"}]}, "mark": {"type": "text", "align": "left", "baseline": "middle", "fontSize": 16, "color": "#111"},
       "encoding": {"x": {"datum": 0.8, "type": "quantitative", "axis": null}, "y": {"datum": 3.25, "type": "quantitative", "axis": null}, "text": {"field": "label"}}}
     ],
     "resolve": {"axis": {"x": "independent", "y": "independent"}}},
    {"width": 314, "height": 44, "view": {"stroke": null},
     "layer": [
      {"data": {"name": "gapSeg"}, "mark": {"type": "rule", "color": "#444444", "strokeWidth": 1},
       "encoding": {"x": {"field": "x1", "type": "quantitative", "scale": {"domain": [0, 90], "nice": false}, "axis": null}, "x2": {"field": "x2"},
        "y": {"field": "y1", "type": "quantitative", "scale": {"domain": [0, 1], "nice": false}, "axis": null}, "y2": {"field": "y2"}}},
      {"data": {"name": "gapLab"}, "mark": {"type": "text", "fontSize": 15, "baseline": "middle", "color": "#111"},
       "encoding": {"x": {"field": "theta", "type": "quantitative", "axis": null}, "y": {"field": "tier", "type": "quantitative", "axis": null}, "text": {"field": "label"}}}
     ]},
    {"width": 314, "height": 92,
     "layer": [
      {"data": {"name": "nC"}, "mark": {"type": "area", "color": "#808080"},
       "encoding": {"x": {"field": "theta", "type": "quantitative", "scale": {"domain": [0, 90], "nice": false}, "axis": {"orient": "bottom", "values": [0,5,10,15,20,25,30,35,40,45,50,55,60,65,70,75,80,85,90], "labelExpr": "datum.value % 10 == 0 ? datum.label : ''", "title": "θ (°)"}},
        "y": {"field": "n", "type": "quantitative", "scale": {"domain": [0, 1300], "nice": false}, "axis": {"orient": "left", "values": [0,200,400,600,800,1000,1200], "format": "d", "labelExpr": "datum.value % 400 == 0 ? datum.label : ''", "title": "N", "titleFontStyle": "italic"}}}},
      {"data": {"name": "nC"}, "mark": {"type": "area", "opacity": 0},
       "encoding": {"x": {"field": "theta", "type": "quantitative", "axis": {"orient": "top", "values": [0,5,10,15,20,25,30,35,40,45,50,55,60,65,70,75,80,85,90], "labels": false, "title": null}},
        "y": {"field": "n", "type": "quantitative", "axis": {"orient": "right", "values": [0,200,400,600,800,1000,1200], "labels": false, "title": null}}}},
      {"data": {"name": "sigma"}, "mark": {"type": "rule", "color": "#111111", "strokeWidth": 1},
       "encoding": {"x": {"field": "theta", "type": "quantitative", "axis": null}}}
     ],
     "resolve": {"axis": {"x": "independent", "y": "independent"}}}
  ]}
  ]}
]
}
